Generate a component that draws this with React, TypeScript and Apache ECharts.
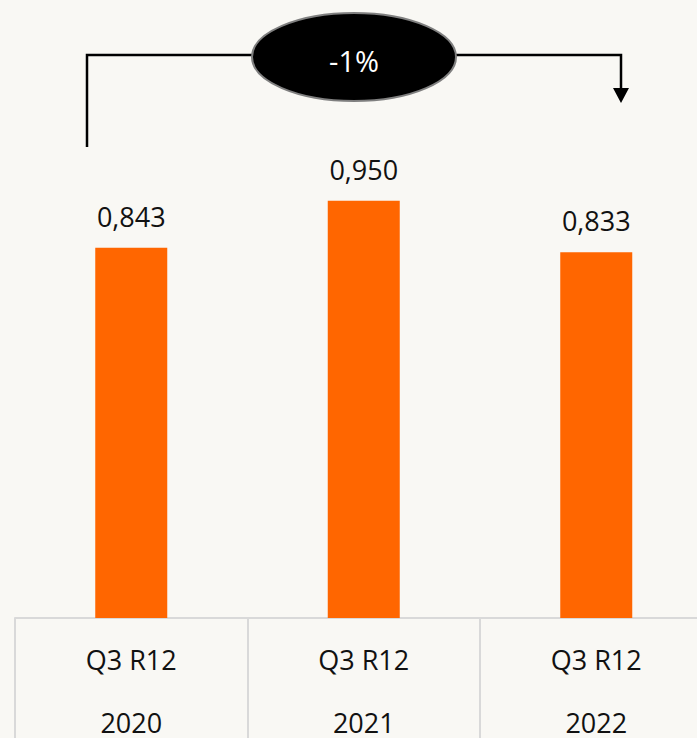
import React, { useEffect, useRef } from "react";
import * as echarts from "echarts";

const categories = ["Q3 R12\n2020", "Q3 R12\n2021", "Q3 R12\n2022"];
const values = [0.843, 0.95, 0.833];

const fmt = (v: number) => v.toFixed(3).replace(".", ",");

export default function App() {
  const ref = useRef<HTMLDivElement>(null);
  useEffect(() => {
    document.body.style.margin = "0";
    const chart = echarts.init(ref.current!, null, { renderer: "svg" });
    const change = Math.round((values[2] / values[0] - 1) * 100);
    const font = "'Open Sans', sans-serif";
    chart.setOption({
      animation: false,
      backgroundColor: "#f9f8f4",
      grid: {
        left: 15,
        top: 91,
        bottom: 120,
        right: -15.5,
        containLabel: false,
        outerBoundsMode: "none",
      },
      xAxis: {
        type: "category",
        data: categories,
        axisLine: { show: true, lineStyle: { color: "#d9d9d9", width: 2 } },
        axisTick: {
          show: true,
          interval: 0,
          length: 125,
          lineStyle: { color: "#d9d9d9", width: 2 },
        },
        axisLabel: {
          interval: 0,
          margin: 10,
          color: "#111111",
          fontSize: 27,
          fontFamily: font,
          lineHeight: 63,
          hideOverlap: false,
        },
      },
      yAxis: {
        type: "value",
        min: 0,
        max: 1.2,
        show: false,
        splitLine: { show: false },
      },
      series: [
        {
          type: "bar",
          data: values,
          barWidth: 72,
          itemStyle: { color: "#ff6600" },
          label: {
            show: true,
            position: "top",
            distance: 18,
            color: "#111111",
            fontSize: 27,
            fontFamily: font,
            formatter: (p: any) => fmt(p.value),
          },
        },
      ],
      graphic: [
        {
          type: "polyline",
          shape: { points: [[87, 147], [87, 55], [252, 55]] },
          style: { stroke: "#000", lineWidth: 2.5, fill: null },
        },
        {
          type: "polyline",
          shape: { points: [[456, 55], [621, 55], [621, 90]] },
          style: { stroke: "#000", lineWidth: 2.5, fill: null },
        },
        {
          type: "polygon",
          shape: { points: [[613, 88], [629, 88], [621, 103]] },
          style: { fill: "#000" },
        },
        {
          type: "ellipse",
          shape: { cx: 354, cy: 57, rx: 102, ry: 44 },
          style: { fill: "#000", stroke: "#7f7f7f", lineWidth: 2 },
        },
        {
          type: "text",
          x: 354,
          y: 60,
          style: {
            text: `${change}%`,
            fill: "#fff",
            fontSize: 29,
            fontFamily: font,
            align: "center",
            verticalAlign: "middle",
          },
        },
      ],
    });
    return () => chart.dispose();
  }, []);
  return (
    <div
      ref={ref}
      style={{ position: "absolute", left: 0, top: 0, width: 697, height: 738 }}
    />
  );
}
